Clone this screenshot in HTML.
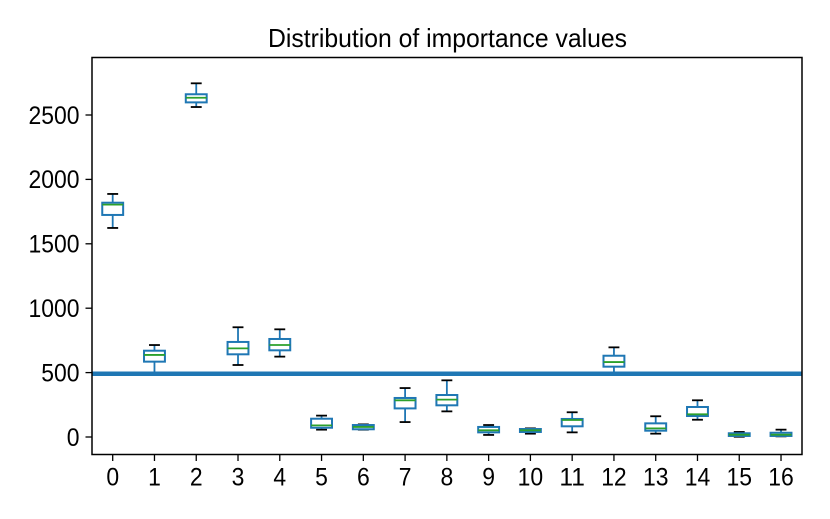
<!DOCTYPE html>
<html>
<head>
<meta charset="utf-8">
<style>
html,body{margin:0;padding:0;background:#fff;width:830px;height:519px;overflow:hidden}
svg{display:block}
text{font-family:"Liberation Sans",sans-serif;fill:#000}
</style>
</head>
<body>
<svg id="chart" width="830" height="519" viewBox="0 0 830 519" xmlns="http://www.w3.org/2000/svg">
<rect x="0" y="0" width="830" height="519" fill="#fff"/>
<text x="447.5" y="47" font-size="26" text-anchor="middle" textLength="359" lengthAdjust="spacingAndGlyphs">Distribution of importance values</text>
<g id="marks"></g>
<g id="ticks"></g>
<rect x="92" y="57.5" width="710" height="397" fill="none" stroke="#000" stroke-width="1.5"/>
</svg>
<script>
const categories = ["0","1","2","3","4","5","6","7","8","9","10","11","12","13","14","15","16"];
const whiskerHigh = [1887,714,2746,852,836,166,98,380,440,93,67,192,696,161,285,39,57];
const quartile3 = [1819,670,2661,738,761,142,93,303,326,78,62,140,631,106,233,29,33];
const medians = [1804,637,2634,688,714,90,78,285,290,52,52,132,582,67,176,18,18];
const quartile1 = [1724,585,2598,642,673,72,60,222,246,36,39,83,546,49,163,8,8];
const whiskerLow = [1623,497,2562,559,624,57,57,116,199,16,26,36,497,26,134,2,5];
const thresholdValue = [491];
const yTickValues = [0,500,1000,1500,2000,2500];

function xScale(i){ return 112.7 + i * 41.77; }
function yScale(v){ return 437 - v * 0.1288; }

const NS = "http://www.w3.org/2000/svg";
const marks = document.getElementById("marks");
const ticks = document.getElementById("ticks");

function line(parent, x1, y1, x2, y2, stroke, width){
  const el = document.createElementNS(NS, "line");
  el.setAttribute("x1", x1);
  el.setAttribute("y1", y1);
  el.setAttribute("x2", x2);
  el.setAttribute("y2", y2);
  el.setAttribute("stroke", stroke);
  el.setAttribute("stroke-width", width);
  parent.appendChild(el);
  return el;
}

const BLUE = "#1f77b4", GREEN = "#2ca02c", BLACK = "#000";
const boxW = 20.9, capW = 10.9;
const digitW = 12.75;

categories.forEach(function(cat, i){
  const cx = xScale(i);
  const g = document.createElementNS(NS, "g");
  
  
  marks.appendChild(g);

  const upper = line(g, cx, yScale(quartile3[i]), cx, yScale(whiskerHigh[i]), BLUE, 1.8);
  
  
  const lower = line(g, cx, yScale(quartile1[i]), cx, yScale(whiskerLow[i]), BLUE, 1.8);
  
  

  const capHi = line(g, cx - capW/2, yScale(whiskerHigh[i]), cx + capW/2, yScale(whiskerHigh[i]), BLACK, 1.8);
  
  
  const capLo = line(g, cx - capW/2, yScale(whiskerLow[i]), cx + capW/2, yScale(whiskerLow[i]), BLACK, 1.8);
  
  

  const rect = document.createElementNS(NS, "rect");
  
  
  rect.setAttribute("x", cx - boxW/2);
  rect.setAttribute("y", yScale(quartile3[i]));
  rect.setAttribute("width", boxW);
  rect.setAttribute("height", yScale(quartile1[i]) - yScale(quartile3[i]));
  rect.setAttribute("fill", "none");
  rect.setAttribute("stroke", BLUE);
  rect.setAttribute("stroke-width", 2);
  g.appendChild(rect);

  const med = line(g, cx - boxW/2, yScale(medians[i]), cx + boxW/2, yScale(medians[i]), GREEN, 1.8);
  
  

  const tick = line(ticks, cx, 454.5, cx, 461, BLACK, 1.3);
  
  

  const label = document.createElementNS(NS, "text");
  
  
  label.setAttribute("x", cx);
  label.setAttribute("y", 485.5);
  label.setAttribute("font-size", "25");
  label.setAttribute("text-anchor", "middle");
  label.setAttribute("textLength", cat.length * digitW);
  label.setAttribute("lengthAdjust", "spacingAndGlyphs");
  label.textContent = cat;
  ticks.appendChild(label);
});

const threshold = line(marks, 92, yScale(thresholdValue[0]), 802, yScale(thresholdValue[0]), BLUE, 4.4);



yTickValues.forEach(function(v){
  const y = yScale(v);
  const tick = line(ticks, 85.5, y, 92, y, BLACK, 1.3);
  
  

  const s = String(v);
  const label = document.createElementNS(NS, "text");
  
  
  label.setAttribute("x", 79.5);
  label.setAttribute("y", y + 8.8);
  label.setAttribute("font-size", "25");
  label.setAttribute("text-anchor", "end");
  label.setAttribute("textLength", s.length * digitW);
  label.setAttribute("lengthAdjust", "spacingAndGlyphs");
  label.textContent = s;
  ticks.appendChild(label);
});
</script>
</body>
</html>
